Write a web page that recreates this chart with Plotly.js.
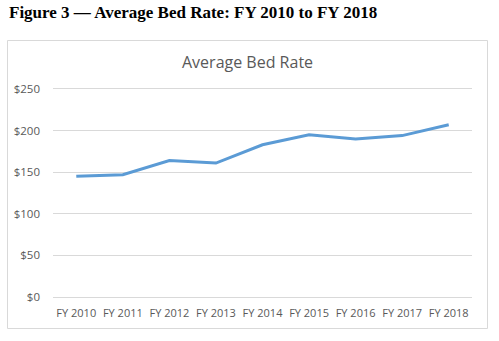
<!DOCTYPE html>
<html>
<head>
<meta charset="utf-8">
<script src="https://cdn.plot.ly/plotly-3.0.1.min.js"></script>
<style>
html,body{margin:0;padding:0;background:#fff;}
#chart{width:499px;height:341px;}
</style>
</head>
<body>
<div id="chart"></div>
<script>
const categories = ["FY 2010","FY 2011","FY 2012","FY 2013","FY 2014","FY 2015","FY 2016","FY 2017","FY 2018"];
const bedRate = [145, 147, 164, 161, 183, 195, 190, 194, 207];
const yTicks = [0, 50, 100, 150, 200, 250];
const yTickLabels = ["$0", "$50", "$100", "$150", "$200", "$250"];

const W = 499, H = 341;
const m = {l: 53, r: 27, t: 89, b: 44};
const pw = W - m.l - m.r, ph = H - m.t - m.b;
const px = x => (x - m.l) / pw;
const py = y => (H - m.b - y) / ph;

const trace = {
  x: categories,
  y: bedRate,
  type: "scatter",
  mode: "lines",
  line: {color: "#5b9bd5", width: 3},
  hoverinfo: "skip"
};

const layout = {
  width: W, height: H,
  margin: m,
  paper_bgcolor: "#ffffff",
  plot_bgcolor: "#ffffff",
  showlegend: false,
  font: {family: "Open Sans, Liberation Sans, sans-serif", color: "#595959", size: 11},
  xaxis: {
    type: "category",
    range: [-0.5, 8.5],
    showgrid: false,
    showline: true,
    mirror: true,
    linecolor: "#d9d9d9",
    linewidth: 1,
    zeroline: false,
    ticks: "",
    ticklabelstandoff: 6,
    tickfont: {size: 11, color: "#595959"},
    fixedrange: true
  },
  yaxis: {
    range: [0, 250],
    tickmode: "array",
    tickvals: yTicks,
    ticktext: yTickLabels,
    showgrid: true,
    gridcolor: "#d9d9d9",
    gridwidth: 1,
    zeroline: false,
    showline: false,
    ticks: "",
    ticklabelstandoff: 12,
    tickfont: {size: 11.5, color: "#595959"},
    fixedrange: true
  },
  shapes: [
    {type: "rect", xref: "paper", yref: "paper",
     x0: px(7.5), x1: px(487.5), y0: py(40.5), y1: py(328.5),
     line: {color: "#d9d9d9", width: 1}, fillcolor: "rgba(0,0,0,0)", layer: "below"}
  ],
  annotations: [
    {xref: "paper", yref: "paper", x: px(7), y: py(12), xanchor: "left", yanchor: "middle",
     text: "<b>Figure 3 — Average Bed Rate: FY 2010 to FY 2018</b>", showarrow: false,
     font: {family: "Liberation Serif, DejaVu Serif, serif", size: 17, color: "#000000"}},
    {xref: "paper", yref: "paper", x: px(247), y: py(62), xanchor: "center", yanchor: "middle",
     text: "Average Bed Rate", showarrow: false,
     font: {family: "Open Sans, Liberation Sans, sans-serif", size: 16, color: "#595959"}}
  ]
};

Plotly.newPlot("chart", [trace], layout, {displayModeBar: false, staticPlot: true});
</script>
</body>
</html>
